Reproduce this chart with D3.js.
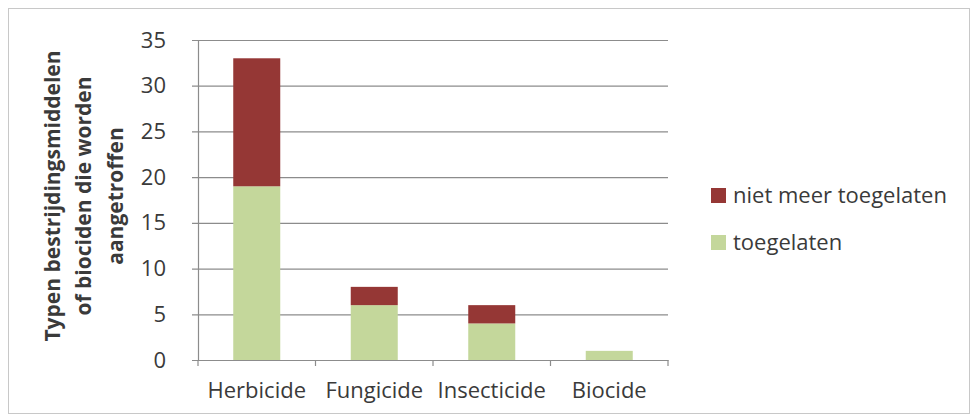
<!DOCTYPE html>
<html lang="nl">
<head>
  <meta charset="UTF-8">
  <title>Bestrijdingsmiddelen</title>
  <script src="https://d3js.org/d3.v7.min.js"></script>
  <style>
    body { margin: 0; background: #fff; font-family: "Open Sans", sans-serif; }
    svg { display: block; }
    .tick text { font-size: 22px; fill: #3a3a3a; font-family: "Open Sans", sans-serif; }
  </style>
</head>
<body>
<svg id="chart" width="974" height="419"></svg>
<script>
  const categories = ["Herbicide", "Fungicide", "Insecticide", "Biocide"];
  const toegelaten = [19, 6, 4, 1];
  const nietMeer = [14, 2, 2, 0];
  const seriesNames = ["niet meer toegelaten", "toegelaten"];
  const yTicks = [0, 5, 10, 15, 20, 25, 30, 35];

  const svg = d3.select("#chart");
  const margin = {top: 40, left: 198, right: 306, bottom: 59};
  const width = 974, height = 419;

  // frame
  svg.append("rect")
    .attr("x", 8.5).attr("y", 8.5)
    .attr("width", 961).attr("height", 405)
    .attr("fill", "#fff").attr("stroke", "#c8c8c8");

  const x = d3.scaleBand()
    .domain(categories)
    .range([margin.left, width - margin.right])
    .paddingInner(0.6).paddingOuter(0.3);

  const y = d3.scaleLinear()
    .domain([0, 35])
    .range([height - margin.bottom, margin.top]);

  // gridlines
  svg.append("g")
    .selectAll("line")
    .data(yTicks)
    .join("line")
    .attr("x1", margin.left - 6).attr("x2", width - margin.right)
    .attr("y1", d => y(d) + 0.5).attr("y2", d => y(d) + 0.5)
    .attr("stroke", "#8c8c8c").attr("stroke-width", 1.2);

  const data = categories.map((c, i) => ({cat: c, toegelaten: toegelaten[i], niet: nietMeer[i]}));
  const stack = d3.stack().keys(["toegelaten", "niet"])(data);
  const color = {toegelaten: "#c4d79b", niet: "#953735"};

  svg.append("g")
    .selectAll("g")
    .data(stack)
    .join("g")
    .attr("fill", d => color[d.key])
    .selectAll("rect")
    .data(d => d)
    .join("rect")
    .attr("x", d => x(d.data.cat))
    .attr("width", x.bandwidth())
    .attr("y", d => y(d[1]))
    .attr("height", d => y(d[0]) - y(d[1]));

  // y axis
  const yAxis = svg.append("g")
    .attr("transform", `translate(${margin.left},0)`)
    .call(d3.axisLeft(y).tickValues(yTicks).tickSize(6).tickPadding(26));
  yAxis.select(".domain").attr("stroke", "#8c8c8c").attr("stroke-width", 1.2);
  yAxis.selectAll(".tick line").remove();

  // x axis
  const xAxis = svg.append("g")
    .attr("transform", `translate(0,${height - margin.bottom})`)
    .call(d3.axisBottom(x).tickSize(0).tickPadding(22));
  xAxis.select(".domain").attr("stroke", "#8c8c8c").attr("stroke-width", 1.2);
  const step = x.step();
  const bounds = d3.range(categories.length + 1).map(i => margin.left + i * step);
  xAxis.selectAll(".bound")
    .data(bounds)
    .join("line")
    .attr("x1", d => d).attr("x2", d => d)
    .attr("y1", 0).attr("y2", 6)
    .attr("stroke", "#8c8c8c").attr("stroke-width", 1.2);

  // y title
  const titleLines = ["Typen bestrijdingsmiddelen", "of biociden die worden", "aangetroffen"];
  svg.append("text")
    .attr("transform", "translate(84,196) rotate(-90)")
    .attr("text-anchor", "middle")
    .attr("font-size", 21).attr("font-weight", "bold").attr("fill", "#3a3a3a")
    .selectAll("tspan")
    .data(titleLines)
    .join("tspan")
    .attr("x", 0)
    .attr("dy", (d, i) => i === 0 ? "-1.15em" : "1.5em")
    .text(d => d);

  // legend
  const legend = svg.append("g")
    .selectAll("g")
    .data(seriesNames)
    .join("g")
    .attr("transform", (d, i) => `translate(711,${195 + i * 47})`);
  legend.append("rect")
    .attr("x", 0).attr("y", -7)
    .attr("width", 15).attr("height", 15)
    .attr("fill", (d, i) => i === 0 ? color.niet : color.toegelaten);
  legend.append("text")
    .attr("x", 22).attr("dy", "0.35em")
    .attr("font-size", 22).attr("fill", "#3a3a3a")
    .text(d => d);
</script>
</body>
</html>
